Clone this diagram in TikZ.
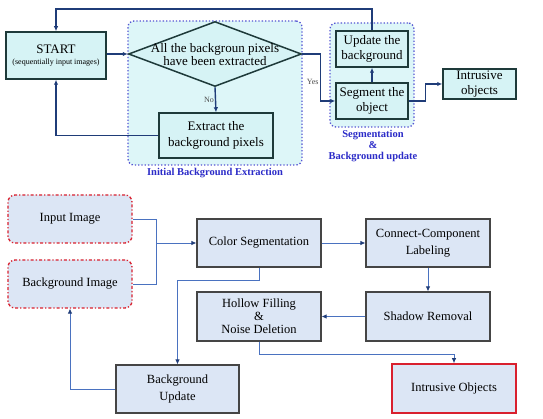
\documentclass[tikz,border=0pt]{standalone}
\usepackage{fontspec}
\setmainfont{Liberation Serif}
\usetikzlibrary{shapes.geometric,arrows.meta}
\definecolor{topfill}{HTML}{D6F3F5}
\definecolor{regfill}{HTML}{DDF6F8}
\definecolor{topline}{HTML}{1F3C78}
\definecolor{topborder}{HTML}{1E3A3A}
\definecolor{botfill}{HTML}{DCE6F5}
\definecolor{botborder}{HTML}{454545}
\definecolor{botline}{HTML}{4A72C0}
\definecolor{redb}{HTML}{D9202E}
\definecolor{labblue}{HTML}{2B2BC8}
\tikzset{
  topbox/.style={draw=topborder, fill=topfill, line width=1.5pt, inner sep=1pt, align=center, font=\fontsize{13}{15.5}\selectfont},
  region/.style={draw=labblue!80, fill=regfill, dotted, line width=1.3pt, rounded corners=6pt},
  toparrow/.style={draw=topline, line width=1.4pt, -{Latex[length=5pt,width=4.5pt]}},
  topline/.style={draw=topline, line width=1.4pt},
  botbox/.style={draw=botborder, fill=botfill, line width=1.2pt, inner sep=1pt, align=center, font=\fontsize{12.5}{17.5}\selectfont},
  inbox/.style={draw=redb, fill=botfill, line width=1.3pt, dash dot, rounded corners=7pt, inner sep=1pt, align=center, font=\fontsize{12.5}{17}\selectfont},
  botarrow/.style={draw=botline, line width=0.8pt, -{Latex[length=5pt,width=4.5pt,color=topline]}},
  botline/.style={draw=botline, line width=0.8pt},
  lab/.style={text=labblue, font=\bfseries\fontsize{10.5}{11}\selectfont, align=center},
  small/.style={font=\fontsize{8}{8}\selectfont, text=black!70, inner sep=1pt},
}
\begin{document}
\begin{tikzpicture}[x=1pt,y=-1pt]
\useasboundingbox[fill=white] (0,0) rectangle (543,419);
% ---------- top part ----------
\node[region, minimum width=174, minimum height=144] (reg1) at (215,93) {};
\node[region, minimum width=84, minimum height=104] (reg2) at (372,75) {};
\node[lab] (lab1) at (215,173) {Initial Background Extraction};
\node[lab] (lab2) at (373,146) {Segmentation\\\&\\Background update};

\node[topbox, minimum width=100, minimum height=47] (start) at (56,55.5)
  {START\\[-4pt]{\fontsize{8}{8}\selectfont (sequentially input images)}};
\node[diamond, draw=topborder, fill=topfill, line width=1.5pt, minimum width=173, minimum height=65, inner sep=0pt, aspect=2.66] (dia) at (215,54) {};
\node[align=center, font=\fontsize{13}{13}\selectfont] (diat) at (215,55) {All the backgroun pixels\\have been extracted};
\node[topbox, minimum width=114, minimum height=45] (extract) at (216,135.5) {Extract the\\background pixels};
\node[topbox, minimum width=72, minimum height=36] (upd) at (372,49) {Update the\\background};
\node[topbox, minimum width=72, minimum height=36] (seg) at (372,101) {Segment the\\object};
\node[topbox, minimum width=73, minimum height=30] (intr) at (479.5,84) {Intrusive\\objects};

\coordinate (ttop) at (0,9);
\draw[toparrow] (upd.north) -- (upd.north |- ttop) -| (start.north);
\draw[toparrow] (start.east |- dia.west) -- (dia.west);
\draw[toparrow] (dia.south) -- node[left, small] {No} (extract.north);
\draw[toparrow] (extract.west) -| (start.south);
\draw[toparrow] (dia.east) -- ++(18,0) |- node[pos=0.3, left, small] {Yes} (seg.west);
\draw[toparrow] (seg.north) -- (upd.south);
\draw[toparrow] (seg.east) -- ++(17,0) |- (intr.west);

% ---------- bottom part ----------
\node[inbox, minimum width=124, minimum height=48] (input) at (70,219) {Input Image};
\node[inbox, minimum width=124, minimum height=48] (bgimg) at (70,284) {Background Image};
\node[botbox, minimum width=124, minimum height=48] (color) at (259,243) {Color Segmentation};
\node[botbox, minimum width=124, minimum height=48] (conn) at (428,243) {Connect-Component\\Labeling};
\node[botbox, minimum width=124, minimum height=49] (shadow) at (428,316.5) {Shadow Removal};
\node[botbox, minimum width=124, minimum height=49] (hollow) at (259,316.5) {Hollow Filling\\[-4.5pt]\&\\[-4.5pt]Noise Deletion};
\node[botbox, minimum width=123, minimum height=48] (bgupd) at (177.5,389) {Background\\Update};
\node[botbox, draw=redb, line width=1.6pt, minimum width=124, minimum height=49] (iobj) at (454,388.5) {Intrusive Objects};

\coordinate (jn) at (156,243);
\draw[botline] (input.east) -| (jn);
\draw[botline] (bgimg.east) -| (jn);
\draw[botarrow] (jn) -- (color.west);
\draw[botarrow] (color.east) -- (conn.west);
\draw[botarrow] (conn.south) -- (shadow.north);
\draw[botarrow] (shadow.west) -- (hollow.east);
\draw[botarrow] (color.south) -- ++(0,13) -| (bgupd.north);
\draw[botarrow] (bgupd.west) -| (bgimg.south);
\draw[botarrow] (hollow.south) -- ++(0,12.5) -| (iobj.north);
\end{tikzpicture}
\end{document}
